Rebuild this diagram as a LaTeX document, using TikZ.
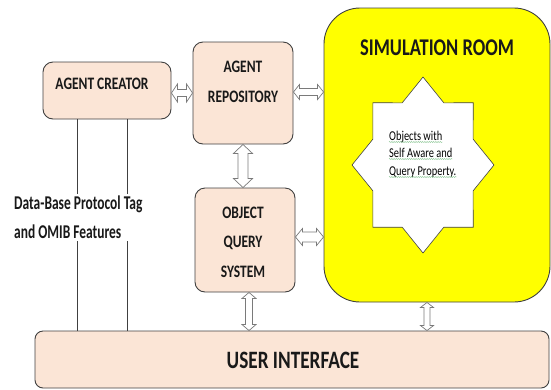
\documentclass[tikz,border=0pt]{standalone}
\usepackage{fontspec}
\setmainfont{Carlito}[FakeStretch=0.77]
\newfontfamily\narrowfont{Carlito}[FakeStretch=0.69]
\usetikzlibrary{calc,decorations.pathmorphing}
\definecolor{peach}{HTML}{FBE5D6}
\definecolor{edgegray}{HTML}{404040}
\definecolor{arrowgray}{HTML}{7A7A7A}
\definecolor{roomyellow}{HTML}{FFFF00}
\definecolor{spellgreen}{HTML}{3FA34D}
\tikzset{
  box/.style={draw=edgegray, line width=0.9pt, fill=peach, rounded corners=10pt, inner sep=0pt},
  room/.style={draw=edgegray, line width=0.9pt, fill=roomyellow, rounded corners=36pt, inner sep=0pt},
  lbl/.style={inner sep=0pt, text=black!90, font=\bfseries\fontsize{17.5}{17.5}\selectfont},
  biglbl/.style={inner sep=0pt, text=black!90, font=\bfseries\fontsize{24}{24}\selectfont},
  smalltxt/.style={inner sep=0pt, font=\fontsize{13.5}{13.5}\selectfont},
  hollow/.style={draw=arrowgray, line width=0.7pt, fill=white, line join=miter},
  plainline/.style={draw=edgegray, line width=0.6pt},
  squiggle/.style={draw=spellgreen!80, line width=0.35pt, decorate,
    decoration={snake, amplitude=0.5pt, segment length=2.2pt}},
}
% hollow double-headed block arrow between two points:
% #1,#2 ends, #3 shaft half width, #4 head half width, #5 head length
\newcommand{\hollowarrow}[5]{%
  \path (#1) coordinate (ha) (#2) coordinate (hb);
  \coordinate (hc) at ($(ha)!#5!(hb)$);
  \coordinate (hd) at ($(hb)!#5!(ha)$);
  \draw[hollow] (ha) -- ($(hc)!#4!90:(hb)$) -- ($(hc)!#3!90:(hb)$)
    -- ($(hd)!#3!-90:(ha)$) -- ($(hd)!#4!-90:(ha)$) -- (hb)
    -- ($(hd)!#4!90:(ha)$) -- ($(hd)!#3!90:(ha)$)
    -- ($(hc)!#3!-90:(hb)$) -- ($(hc)!#4!-90:(hb)$) -- cycle;
}
\begin{document}
\begin{tikzpicture}[x=1pt,y=-1pt]
\useasboundingbox (0,0) rectangle (551,389);

% boxes
\node[box, minimum width=128pt, minimum height=57pt] (creator) at (107,90.5) {};
\node[box, minimum width=100pt, minimum height=102pt] (repo) at (243,93) {};
\node[box, minimum width=100pt, minimum height=104pt] (oqs) at (245,240) {};
\node[room, minimum width=226pt, minimum height=294pt] (sim) at (437,155) {};
\node[box, rounded corners=8pt, minimum width=514pt, minimum height=57pt] (ui) at (292,359.5) {};

% eight-pointed star inside the simulation room
\coordinate (star) at (423,165);
\draw[draw=edgegray, line width=0.6pt, fill=white]
  (423,77) \foreach \k in {1,...,15} {
    -- ({423+71*(0.8825+0.1175*cos(\k*180))*cos(90-\k*22.5)},
        {165-88*(0.8825+0.1175*cos(\k*180))*sin(90-\k*22.5)})
  } -- cycle;

% creator to user interface lines
\coordinate (la) at (77,0);
\coordinate (lb) at (127,0);
\draw[plainline] (creator.south -| la) -- (ui.north -| la);
\draw[plainline] (creator.south -| lb) -- (ui.north -| lb);

% labels
\node[lbl] (tcreator) at (102,84) {AGENT CREATOR};
\node[lbl] (trepo1) at (243,67) {AGENT};
\node[lbl] (trepo2) at (243,97) {REPOSITORY};
\node[lbl] (toqs1) at (243,213) {OBJECT};
\node[lbl] (toqs2) at (243,243) {QUERY};
\node[lbl] (toqs3) at (243,272) {SYSTEM};
\node[biglbl] (tsim) at (437,48) {SIMULATION ROOM};
\node[biglbl, font=\bfseries\fontsize{25}{25}\selectfont] (tui) at (293,360) {USER INTERFACE};
\node[lbl, fill=white, inner sep=2pt, anchor=west, align=left,
      font=\narrowfont\bfseries\fontsize{19.5}{29}\selectfont] (tdb) at (12,217.5)
  {Data-Base Protocol Tag\\and OMIB Features};

% star text with spelling marks
\node[smalltxt, anchor=base west] (s1) at (389,140) {Objects with};
\node[smalltxt, anchor=base west] (s2) at (389,157) {Self Aware and};
\node[smalltxt, anchor=base west] (s3) at (389,175) {Query Property.};
\foreach \s in {s1,s2,s3} {
  \draw[squiggle] ([yshift=-2pt]\s.base west) -- ([yshift=-2pt]\s.base east);
}

% hollow double arrows
\coordinate (ya) at (0,93);
\coordinate (yb) at (0,92);
\coordinate (yc) at (0,237);
\coordinate (xa) at (249,0);
\coordinate (xb) at (427,0);
\hollowarrow{creator.east |- ya}{repo.west |- ya}{3.5pt}{9pt}{6pt}
\hollowarrow{repo.east |- yb}{sim.west |- yb}{3.5pt}{7.5pt}{6pt}
\hollowarrow{repo.south}{repo.south |- oqs.north}{5pt}{9.5pt}{9pt}
\hollowarrow{oqs.east |- yc}{sim.west |- yc}{5pt}{8.5pt}{7pt}
\hollowarrow{oqs.south -| xa}{ui.north -| xa}{3.5pt}{7pt}{6pt}
\hollowarrow{sim.south -| xb}{ui.north -| xb}{3pt}{6.5pt}{5pt}
\end{tikzpicture}
\end{document}
